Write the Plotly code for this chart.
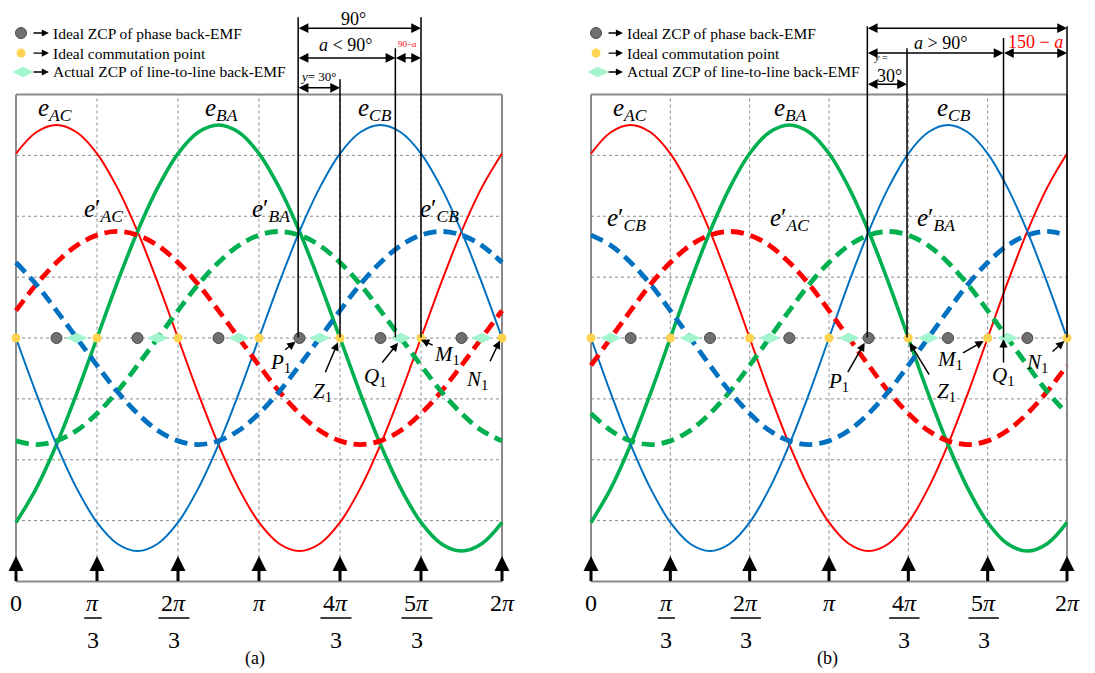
import plotly.graph_objects as go

# ---- values (angle in degrees, EMF in grid units) ----
theta = [0, 15, 30, 45, 60, 75, 90, 105, 120, 135, 150, 165, 180,
         195, 210, 225, 240, 255, 270, 285, 300, 315, 330, 345, 360]

# line-to-line back-EMF (solid, same in both panels)
e_ac = [3.03, 3.38, 3.5, 3.38, 3.03, 2.47, 1.75, 0.91, 0, -0.91, -1.75, -2.47, -3.03,
        -3.38, -3.5, -3.38, -3.03, -2.47, -1.75, -0.91, 0, 0.91, 1.75, 2.47, 3.03]
e_ba = [-3.03, -2.47, -1.75, -0.91, 0, 0.91, 1.75, 2.47, 3.03, 3.38, 3.5, 3.38, 3.03,
        2.47, 1.75, 0.91, 0, -0.91, -1.75, -2.47, -3.03, -3.38, -3.5, -3.38, -3.03]
e_cb = [0, -0.91, -1.75, -2.47, -3.03, -3.38, -3.5, -3.38, -3.03, -2.47, -1.75, -0.91, 0,
        0.91, 1.75, 2.47, 3.03, 3.38, 3.5, 3.38, 3.03, 2.47, 1.75, 0.91, 0]

# filtered line-to-line back-EMF (dashed), case (a)
ea_ac = [0.45, 0.88, 1.24, 1.52, 1.69, 1.75, 1.69, 1.52, 1.24, 0.88, 0.45, 0, -0.45,
         -0.88, -1.24, -1.52, -1.69, -1.75, -1.69, -1.52, -1.24, -0.88, -0.45, 0, 0.45]
ea_ba = [-1.69, -1.75, -1.69, -1.52, -1.24, -0.88, -0.45, 0, 0.45, 0.88, 1.24, 1.52, 1.69,
         1.75, 1.69, 1.52, 1.24, 0.88, 0.45, 0, -0.45, -0.88, -1.24, -1.52, -1.69]
ea_cb = [1.24, 0.88, 0.45, 0, -0.45, -0.88, -1.24, -1.52, -1.69, -1.75, -1.69, -1.52, -1.24,
         -0.88, -0.45, 0, 0.45, 0.88, 1.24, 1.52, 1.69, 1.75, 1.69, 1.52, 1.24]

# filtered line-to-line back-EMF (dashed), case (b)
eb_ac = [-0.45, 0, 0.45, 0.88, 1.24, 1.52, 1.69, 1.75, 1.69, 1.52, 1.24, 0.88, 0.45,
         0, -0.45, -0.88, -1.24, -1.52, -1.69, -1.75, -1.69, -1.52, -1.24, -0.88, -0.45]
eb_ba = [-1.24, -1.52, -1.69, -1.75, -1.69, -1.52, -1.24, -0.88, -0.45, 0, 0.45, 0.88, 1.24,
         1.52, 1.69, 1.75, 1.69, 1.52, 1.24, 0.88, 0.45, 0, -0.45, -0.88, -1.24]
eb_cb = [1.69, 1.52, 1.24, 0.88, 0.45, 0, -0.45, -0.88, -1.24, -1.52, -1.69, -1.75, -1.69,
         -1.52, -1.24, -0.88, -0.45, 0, 0.45, 0.88, 1.24, 1.52, 1.69, 1.75, 1.69]

phase_zcp = [30, 90, 150, 210, 270, 330]
commutation = [0, 60, 120, 180, 240, 300, 360]
ll_zcp_a = [45, 105, 165, 225, 285, 345]
ll_zcp_b = [15, 75, 135, 195, 255, 315]

tick_pos = [0, 60, 120, 180, 240, 300, 360]
tick_num = ["0", "π", "2π", "π", "4π", "5π", "2π"]
tick_den = ["", "3", "3", "", "3", "3", ""]
grid_y = [-4, -3, -2, -1, 0, 1, 2, 3, 4]

legend_txt = ["Ideal ZCP of phase back-EMF", "Ideal commutation point",
              "Actual ZCP of line-to-line back-EMF"]

# ---- layout helpers ----
W, H = 1095, 673
OFF = 8                      # the page body adds an 8px margin
Y0, YS = 338 - OFF, 60.875   # pixel row of the zero line, pixels per unit
YMAX = Y0 / YS
YMIN = (Y0 - H) / YS
PAD = 4

RED, GREEN, BLUE = "#FF0000", "#00B050", "#0070C0"
GRID = "#8a8a8a"
SERIF = "Liberation Serif"


def xdomain(px0, px1):
    px0, px1 = px0 - OFF, px1 - OFF
    s = (px1 - px0) / 360
    return [(px0 - PAD * s) / W, (px1 + PAD * s) / W]


fig = go.Figure()
shapes, annotations = [], []


def label(xa, ya, x, y, text, size, color="black", xanchor="center"):
    annotations.append(dict(xref=xa, yref=ya, x=x, y=y, text=text, showarrow=False,
                            font=dict(family=SERIF, size=size, color=color),
                            xanchor=xanchor, yanchor="middle"))


def arrow(xa, ya, x0, y0, x1, y1, side="end", head=2, width=1.3, size=1.4):
    annotations.append(dict(xref=xa, yref=ya, axref=xa, ayref=ya, x=x1, y=y1, ax=x0, ay=y0,
                            text="", showarrow=True, arrowhead=head, startarrowhead=head,
                            arrowside=side, arrowwidth=width, arrowsize=size,
                            startarrowsize=size, arrowcolor="black",
                            standoff=0, startstandoff=0, borderpad=0))


def e_lab(sub, prime=False):
    return "<i>e</i>" + ("′" if prime else "") + "<sub><i>" + sub + "</i></sub>"


def add_panel(xa, ya, dashed, ll_zcp, sp):
    # grid
    for xv in tick_pos:
        border = xv in (0, 360)
        shapes.append(dict(type="line", xref=xa, yref=ya, x0=xv, x1=xv, y0=-4, y1=4,
                           layer="below",
                           line=dict(color=GRID, width=2 if border else 1,
                                     dash="solid" if border else "3px,3px")))
    for yv in grid_y:
        border = abs(yv) == 4
        shapes.append(dict(type="line", xref=xa, yref=ya, x0=0, x1=360, y0=yv, y1=yv,
                           layer="below",
                           line=dict(color=GRID, width=2 if border else 1,
                                     dash="solid" if border else "3px,3px")))

    kw = dict(xaxis=xa, yaxis=ya, mode="lines", hoverinfo="skip", line_shape="spline")
    for ys, col, w in [(e_ac, RED, 2), (e_ba, GREEN, 3.6), (e_cb, BLUE, 2)]:
        fig.add_trace(go.Scatter(x=theta, y=ys, line=dict(color=col, width=w), **kw))
    for ys, col in dashed:
        fig.add_trace(go.Scatter(x=theta, y=ys,
                                 line=dict(color=col, width=4.8, dash="13px,7px"), **kw))

    # feature points
    mk = dict(xaxis=xa, yaxis=ya, mode="markers", hoverinfo="skip", cliponaxis=False)
    fig.add_trace(go.Scatter(x=ll_zcp, y=[0] * len(ll_zcp),
                             marker=dict(symbol="diamond-wide", size=15, color="#A3F5CE"), **mk))
    fig.add_trace(go.Scatter(x=phase_zcp, y=[0] * len(phase_zcp),
                             marker=dict(size=11, color="#707070",
                                         line=dict(color="#4a4a4a", width=1)), **mk))
    fig.add_trace(go.Scatter(x=commutation, y=[0] * len(commutation),
                             marker=dict(size=9, color="#FFD34F"), **mk))

    # legend (drawn by hand, with arrows)
    lx, dx, a0, a1, tx = sp["legend"]
    rows = [5.01, 4.68, 4.37]
    fig.add_trace(go.Scatter(x=[lx], y=[rows[0]], marker=dict(size=11, color="#707070",
                             line=dict(color="#4a4a4a", width=1)), **mk))
    fig.add_trace(go.Scatter(x=[lx], y=[rows[1]], marker=dict(size=9, color="#FFD34F"), **mk))
    fig.add_trace(go.Scatter(x=[dx], y=[rows[2]],
                             marker=dict(symbol="diamond-wide", size=15, color="#A3F5CE"), **mk))
    for r, t in zip(rows, legend_txt):
        arrow(xa, ya, a0, r, a1, r, width=1.3, size=1.1)
        label(xa, ya, tx, r, t, 15.5, xanchor="left")

    # curve names
    for t, x, y in sp["curves"]:
        label(xa, ya, x, y, t, 25)

    # points P1, Z1 ...
    for t, tx_, ty_, x0, y0, x1, y1 in sp["points"]:
        label(xa, ya, tx_, ty_, "<i>" + t + "</i><sub>1</sub>", 21)
        arrow(xa, ya, x0, y0, x1, y1, width=1.5, size=1.1)

    # dimension lines
    for xv, top in sp["vlines"]:
        arrow(xa, ya, xv, 0, xv, top, head=0, width=1.5)
    for x0, x1, y in sp["dims"]:
        arrow(xa, ya, x0, y, x1, y, side="end+start", width=1.5, size=1.3)
    for t, x, y, s, c in sp["texts"]:
        label(xa, ya, x, y, t, s, color=c)

    # bottom axis: arrows and tick labels
    for xv, num, den in zip(tick_pos, tick_num, tick_den):
        arrow(xa, ya, xv, -4, xv, -3.58, width=3, size=1.0)
        if den:
            xc = xv - 3
            label(xa, ya, xc, -4.35, "<i>" + num + "</i>" if num == "π" else
                  num[0] + "<i>π</i>", 24)
            half = 6.5 if num == "π" else 11.5
            shapes.append(dict(type="line", xref=xa, yref=ya, x0=xc - half, x1=xc + half,
                               y0=-4.6, y1=-4.6, line=dict(color="black", width=1.5)))
            label(xa, ya, xc, -4.96, den, 24)
        else:
            t = num if num == "0" else num.replace("π", "<i>π</i>")
            label(xa, ya, xv, -4.35, t, 24)
    label(xa, ya, sp["caption"][1], -5.26, sp["caption"][0], 18)


spec_a = dict(
    legend=(3.7, 5.2, 12.6, 24.4, 25.9),
    curves=[(e_lab("AC"), 29, 3.75), (e_lab("BA"), 152, 3.75), (e_lab("CB"), 266, 3.75),
            (e_lab("AC", True), 65, 2.1), (e_lab("BA", True), 189, 2.1),
            (e_lab("CB", True), 314, 2.1)],
    points=[("P", 195.6, -0.41, 199, -0.2, 207, -0.06),
            ("Z", 226.7, -0.89, 229, -0.57, 238.5, -0.07),
            ("Q", 266, -0.64, 271, -0.41, 283, -0.08),
            ("M", 319, -0.28, 309, -0.12, 300, -0.03),
            ("N", 341.5, -0.69, 351, -0.39, 358.5, -0.04)],
    vlines=[(209, 5.27), (300, 5.27), (281, 4.76), (240, 4.25)],
    dims=[(209, 300, 5.09), (209, 281, 4.6), (281, 300, 4.6), (209, 240, 4.11)],
    texts=[("90°", 250, 5.24, 18, "black"),
           ("<i>a</i> &lt; 90°", 244, 4.81, 18, "black"),
           ("90−<i>a</i>", 290, 4.83, 9, RED),
           ("<i>y</i>= 30°", 224, 4.29, 13, "black")],
    caption=("(a)", 177),
)

spec_b = dict(
    legend=(3.8, 5.3, 12.9, 24.2, 25.7),
    curves=[(e_lab("AC"), 29.3, 3.75), (e_lab("BA"), 151, 3.75), (e_lab("CB"), 274.6, 3.75),
            (e_lab("CB", True), 27, 1.95), (e_lab("AC", True), 150, 1.95),
            (e_lab("BA", True), 261, 1.95)],
    points=[("P", 187, -0.72, 194, -0.57, 207, -0.08),
            ("Z", 269, -0.89, 256, -0.61, 241, -0.08),
            ("M", 271.4, -0.36, 281, -0.25, 297, -0.05),
            ("Q", 312, -0.62, 312, -0.41, 312, -0.02),
            ("N", 337, -0.41, 348.7, -0.23, 358, -0.05)],
    vlines=[(209, 5.12), (239, 4.76), (312, 4.93), (360, 5.12)],
    dims=[(209, 360, 5.09), (209, 312, 4.68), (312, 360, 4.68), (209, 239, 4.17)],
    texts=[("<i>a</i> &gt; 90°", 264, 4.85, 18, "black"),
           ("150 − <i>a</i>", 336, 4.87, 18, RED),
           ("<i>y</i> =", 219, 4.6, 10, "black"),
           ("30°", 226, 4.31, 18, "black")],
    caption=("(b)", 178.5),
)

add_panel("x", "y", [(ea_ac, RED), (ea_ba, GREEN), (ea_cb, BLUE)], ll_zcp_a, spec_a)
add_panel("x2", "y2", [(eb_ac, RED), (eb_ba, GREEN), (eb_cb, BLUE)], ll_zcp_b, spec_b)

ax_off = dict(visible=False, showgrid=False, zeroline=False, fixedrange=True)
fig.update_layout(
    width=W, height=H,
    margin=dict(l=0, r=0, t=0, b=0),
    paper_bgcolor="white", plot_bgcolor="white",
    showlegend=False,
    xaxis=dict(domain=xdomain(16, 502), range=[-PAD, 360 + PAD], anchor="y", **ax_off),
    yaxis=dict(domain=[0, 1], range=[YMIN, YMAX], anchor="x", **ax_off),
    xaxis2=dict(domain=xdomain(591, 1067), range=[-PAD, 360 + PAD], anchor="y2", **ax_off),
    yaxis2=dict(domain=[0, 1], range=[YMIN, YMAX], anchor="x2", **ax_off),
    shapes=shapes,
    annotations=annotations,
)

fig.write_html("out.html")
